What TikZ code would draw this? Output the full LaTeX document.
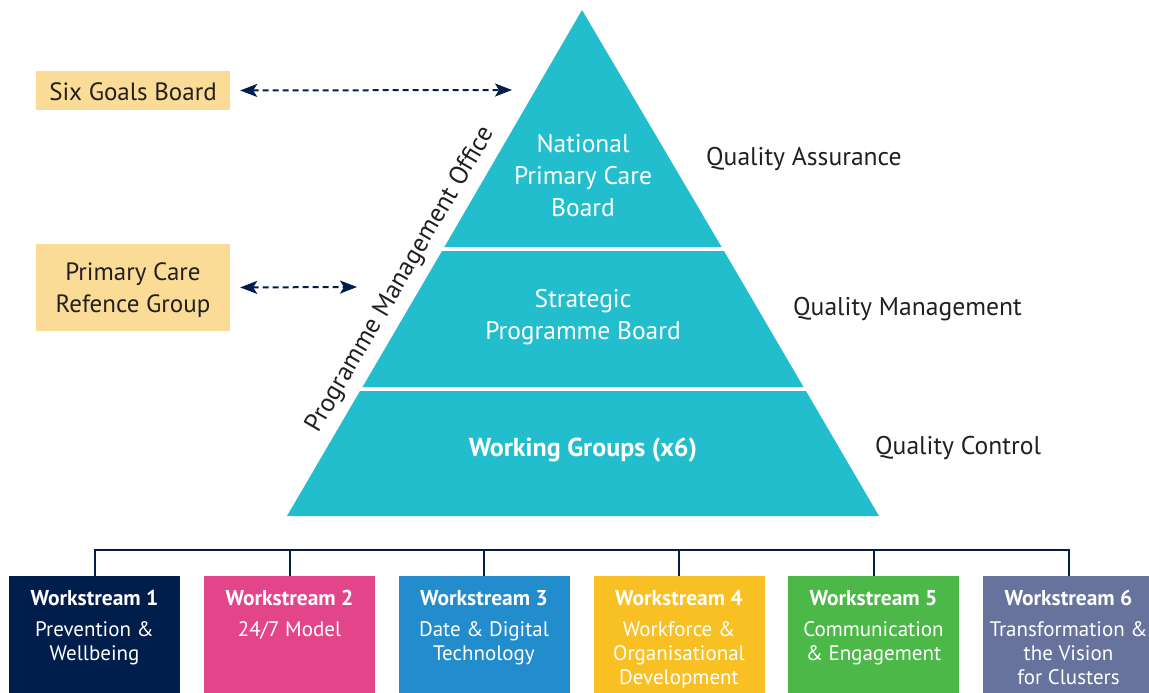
\documentclass[tikz,border=0pt]{standalone}
\usepackage{fontspec}
\setmainfont{PT Sans}
\usetikzlibrary{arrows.meta}
\definecolor{pyr}{HTML}{22BECD}
\definecolor{gold}{HTML}{FADC96}
\definecolor{navy}{HTML}{001E4B}
\definecolor{wpink}{HTML}{E2458A}
\definecolor{wblue}{HTML}{238CCD}
\definecolor{wyellow}{HTML}{F8C023}
\definecolor{wgreen}{HTML}{4CB848}
\definecolor{wslate}{HTML}{67739D}
\definecolor{ink}{HTML}{231F20}
\tikzset{
  pyrtext/.style={text=white, align=center, font=\fontsize{25.5}{32}\selectfont, inner sep=0pt},
  qtext/.style={text=ink, anchor=west, font=\fontsize{25.6}{30}\selectfont, inner sep=0pt},
  goldbox/.style={fill=gold, minimum width=194pt, inner sep=0pt},
  goldtext/.style={text=ink, align=center, inner sep=0pt, font=\fontsize{25}{32}\selectfont},
  tipx/.tip={Stealth[length=17pt,width=13pt,inset=4pt]},
  arr/.style={navy, line width=2pt, dash pattern=on 6pt off 4pt, tipx-tipx},
  wsbox/.style={minimum width=171pt, minimum height=117pt, inner sep=0pt, anchor=north},
  wstext/.style={text=white, align=center, anchor=north, inner sep=0pt, font=\fontsize{21}{24}\selectfont},
  conn/.style={navy, line width=2pt}
}
\begin{document}
\begin{tikzpicture}[x=1pt,y=-1pt]
\useasboundingbox (0,0) rectangle (1149,693);
% pyramid bands
\fill[pyr] (582,10) -- (721.6,247) -- (444.4,247) -- cycle;
\fill[pyr] (442,251) -- (724,251) -- (803.5,387) -- (362.5,387) -- cycle;
\fill[pyr] (360,391) -- (806,391) -- (879,516) -- (287,516) -- cycle;
\node[pyrtext] (npcb) at (583,176) {National\\Primary Care\\Board};
\node[pyrtext] (spb) at (583,317) {Strategic\\Programme Board};
\node[pyrtext, font=\fontsize{26}{32}\selectfont\bfseries] (wg) at (583,450) {Working Groups (x6)};
\node[qtext] (qa) at (706,159) {Quality Assurance};
\node[qtext] (qm) at (793,309) {Quality Management};
\node[qtext] (qc) at (875,448) {Quality Control};
% rotated label
\node[text=ink, anchor=base, rotate=59.75, inner sep=0pt, font=\fontsize{25.8}{30}\selectfont] (pmo) at (406.5,283) {Programme Management Office};
% gold boxes
\node[goldbox, minimum height=39pt] (sgb) at (133,90.5) {};
\node[goldtext] (sgbt) at (133,91.5) {Six Goals Board};
\node[goldbox, minimum height=87pt] (pcrg) at (133,287.5) {};
\node[goldtext] (pcrgt) at (133,290) {Primary Care\\Refence Group};
\coordinate (a1) at (512,90);
\coordinate (a2) at (357,287);
\draw[arr, shorten <=10pt] (sgb.east) -- (a1);
\draw[arr, shorten <=10pt] (pcrg.east) -- (a2);
% workstreams
\node[wsbox, fill=navy] (w1) at (94.5,576) {};
\node[wsbox, fill=wpink] (w2) at (289.5,576) {};
\node[wsbox, fill=wblue] (w3) at (484,576) {};
\node[wsbox, fill=wyellow] (w4) at (679,576) {};
\node[wsbox, fill=wgreen] (w5) at (873.5,576) {};
\node[wsbox, fill=wslate] (w6) at (1068.5,576) {};
\newcommand{\wst}[1]{{\fontsize{21.5}{24}\selectfont\bfseries #1}\\[7pt]}
\node[wstext] (t1) at (94.5,590) {\wst{Workstream 1}Prevention \&\\Wellbeing};
\node[wstext] (t2) at (289.5,590) {\wst{Workstream 2}24/7 Model};
\node[wstext] (t3) at (484,590) {\wst{Workstream 3}Date \& Digital\\Technology};
\node[wstext] (t4) at (679,590) {\wst{Workstream 4}Workforce \&\\Organisational\\Development};
\node[wstext] (t5) at (873.5,590) {\wst{Workstream 5}Communication\\\& Engagement};
\node[wstext] (t6) at (1068.5,590) {\wst{Workstream 6}Transformation \&\\the Vision\\for Clusters};
\draw[conn] (w1.north) -- ++(0,-26) -| (w6.north);
\foreach \n in {w2,w3,w4,w5} \draw[conn] (\n.north) -- ++(0,-26);
\end{tikzpicture}
\end{document}
